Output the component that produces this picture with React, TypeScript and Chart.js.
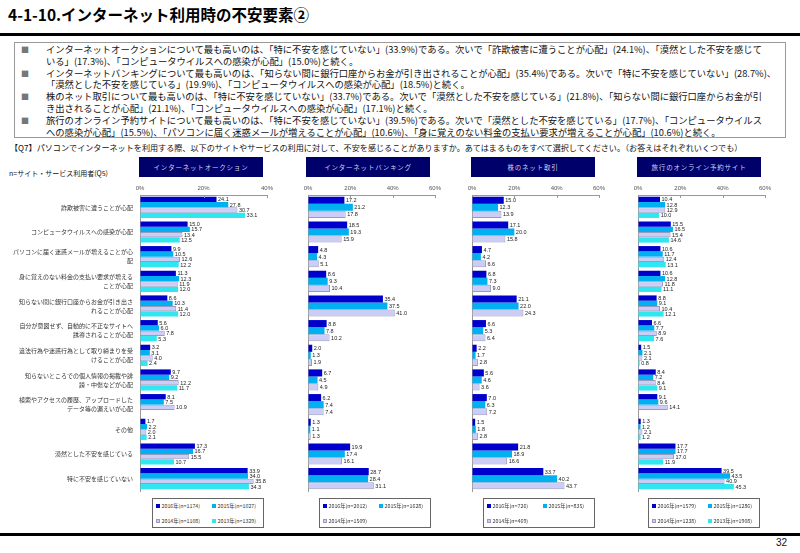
import React, { useEffect, useRef } from "react";
import { Chart, registerables } from "chart.js";

Chart.register(...registerables);

const FONT = "'Noto Sans CJK JP', 'Noto Sans', sans-serif";
const NUMFONT = "'Liberation Sans', Arial, sans-serif";

const categories = [
  "詐欺被害に遭うことが心配",
  "コンピュータウイルスへの感染が心配",
  "パソコンに届く迷惑メールが増えることが心\n配",
  "身に覚えのない料金の支払い要求が増える\nことが心配",
  "知らない間に銀行口座からお金が引き出さ\nれることが心配",
  "自分が意図せず、自動的に不正なサイトへ\n誘導されることが心配",
  "違法行為や迷惑行為として取り締まりを受\nけることが心配",
  "知らないところでの個人情報の掲載や誹\n謗・中傷などが心配",
  "検索やアクセスの履歴、アップロードした\nデータ等の漏えいが心配",
  "その他",
  "漠然とした不安を感じている",
  "特に不安を感じていない",
];

const years = ["2016年", "2015年", "2014年", "2013年"];
const yearColors = ["#0000CC", "#00B0F0", "#CCCCF8", "#30E6F0"];
const yearBorders = ["#0000CC", "#00B0F0", "#9A9ABE", "#30E6F0"];

const panelTitles = ["インターネットオークション", "インターネットバンキング", "株のネット取引", "旅行のオンライン予約サイト"];
const xMaxes = [40, 60, 60, 60];
const tickStep = 20;

const auction2016 = [24.1, 15.0, 9.9, 11.3, 8.6, 5.6, 3.2, 9.7, 8.1, 1.7, 17.3, 33.9];
const auction2015 = [27.8, 15.7, 10.5, 12.3, 10.3, 6.0, 3.1, 9.2, 7.5, 2.2, 16.7, 34.0];
const auction2014 = [30.7, 13.4, 12.6, 11.9, 11.4, 7.8, 4.0, 12.2, 10.9, 2.0, 15.5, 35.8];
const auction2013 = [33.1, 12.5, 12.2, 12.0, 12.0, 5.3, 2.4, 11.7, null, 2.1, 10.7, 34.3];
const auctionN = [1174, 1027, 1108, 1329];

const banking2016 = [17.2, 18.5, 4.8, 8.6, 35.4, 8.8, 2.0, 6.7, 6.2, 1.3, 19.9, 28.7];
const banking2015 = [21.2, 19.3, 4.3, 9.3, 37.5, 7.8, 1.3, 4.5, 7.4, 1.1, 17.4, 28.4];
const banking2014 = [17.8, 15.9, 5.1, 10.4, 41.0, 10.2, 1.9, 4.9, 7.4, 1.3, 16.1, 31.1];
const bankingN = [2012, 1628, 1509];

const stock2016 = [15.0, 17.1, 4.7, 6.8, 21.1, 6.6, 2.2, 5.6, 7.0, 1.5, 21.8, 33.7];
const stock2015 = [12.3, 20.0, 4.2, 7.3, 22.0, 5.3, 1.7, 4.6, 6.3, 1.8, 18.9, 40.2];
const stock2014 = [13.9, 15.8, 6.6, 9.0, 24.3, 6.4, 2.8, 3.6, 7.2, 2.8, 16.6, 43.7];
const stockN = [726, 835, 469];

const travel2016 = [10.4, 15.5, 10.6, 10.6, 8.8, 6.6, 1.5, 8.4, 9.1, 1.3, 17.7, 39.5];
const travel2015 = [12.8, 16.5, 11.7, 12.8, 9.1, 7.7, 2.1, 7.2, 9.6, 1.2, 17.7, 43.5];
const travel2014 = [12.9, 15.4, 12.4, 11.8, 10.4, 8.9, 2.1, 8.4, 14.1, 2.1, 17.0, 40.9];
const travel2013 = [10.0, 14.6, 13.1, 11.1, 12.1, 7.6, 0.8, 9.1, null, 1.2, 11.9, 45.3];
const travelN = [1579, 1286, 1238, 1908];

const bulletLines = [
  [
    "インターネットオークションについて最も高いのは、「特に不安を感じていない」(33.9%)である。次いで「詐欺被害に遭うことが心配」(24.1%)、「漠然とした不安を感じて",
    "いる」(17.3%)、「コンピュータウイルスへの感染が心配」(15.0%)と続く。",
  ],
  [
    "インターネットバンキングについて最も高いのは、「知らない間に銀行口座からお金が引き出されることが心配」(35.4%)である。次いで「特に不安を感じていない」(28.7%)、",
    "「漠然とした不安を感じている」(19.9%)、「コンピュータウイルスへの感染が心配」(18.5%)と続く。",
  ],
  [
    "株のネット取引について最も高いのは、「特に不安を感じていない」(33.7%)である。次いで「漠然とした不安を感じている」(21.8%)、「知らない間に銀行口座からお金が引",
    "き出されることが心配」(21.1%)、「コンピュータウイルスへの感染が心配」(17.1%)と続く。",
  ],
  [
    "旅行のオンライン予約サイトについて最も高いのは、「特に不安を感じていない」(39.5%)である。次いで「漠然とした不安を感じている」(17.7%)、「コンピュータウイルス",
    "への感染が心配」(15.5%)、「パソコンに届く迷惑メールが増えることが心配」(10.6%)、「身に覚えのない料金の支払い要求が増えることが心配」(10.6%)と続く。",
  ],
];

const questionText =
  "【Q7】パソコンでインターネットを利用する際、以下のサイトやサービスの利用に対して、不安を感じることがありますか。あてはまるものをすべて選択してください。（お答えはそれぞれいくつでも）";
const baseText = "n=サイト・サービス利用者(Q5)";

type PanelDef = {
  series: (number | null)[][];
  ns: number[];
  canvasLeft: number;
  canvasWidth: number;
  padLeft: number;
  padRight: number;
  yWidth: number;
  showLabels: boolean;
  headerLeft: number;
  legendLeft: number;
};

const panels: PanelDef[] = [
  { series: [auction2016, auction2015, auction2014, auction2013], ns: auctionN, canvasLeft: 0, canvasWidth: 290, padLeft: 0, padRight: 23, yWidth: 140, showLabels: true, headerLeft: 139, legendLeft: 152 },
  { series: [banking2016, banking2015, banking2014], ns: bankingN, canvasLeft: 290, canvasWidth: 160, padLeft: 18, padRight: 15, yWidth: 0, showLabels: false, headerLeft: 306, legendLeft: 319 },
  { series: [stock2016, stock2015, stock2014], ns: stockN, canvasLeft: 455, canvasWidth: 160, padLeft: 17, padRight: 16, yWidth: 0, showLabels: false, headerLeft: 471, legendLeft: 483 },
  { series: [travel2016, travel2015, travel2014, travel2013], ns: travelN, canvasLeft: 620, canvasWidth: 165, padLeft: 18, padRight: 20, yWidth: 0, showLabels: false, headerLeft: 637, legendLeft: 648 },
];

const CANVAS_TOP = 180;
const CANVAS_H = 320;

const overlayPlugin = {
  id: "overlay",
  afterDatasetsDraw(chart: any) {
    const ctx = chart.ctx;
    ctx.save();
    ctx.font = `5.5px ${NUMFONT}`;
    ctx.fillStyle = "#222";
    ctx.textAlign = "left";
    ctx.textBaseline = "middle";
    chart.data.datasets.forEach((ds: any, di: number) => {
      const meta = chart.getDatasetMeta(di);
      meta.data.forEach((el: any, i: number) => {
        const v = ds.data[i];
        if (v === null || v === undefined) return;
        ctx.fillText(Number(v).toFixed(1), el.x + 1.5, el.y + 0.5);
      });
    });
    const xs = chart.scales.x;
    ctx.strokeStyle = "#999";
    ctx.lineWidth = 1;
    ctx.beginPath();
    xs.ticks.forEach((t: any) => {
      if (t.value === 0) return;
      const px = Math.round(xs.getPixelForValue(t.value)) + 0.5;
      ctx.moveTo(px, chart.chartArea.top);
      ctx.lineTo(px, chart.chartArea.top + 3);
    });
    ctx.stroke();
    ctx.restore();
  },
};

function Panel({ def, xMax }: { def: PanelDef; xMax: number }) {
  const ref = useRef<HTMLCanvasElement>(null);
  useEffect(() => {
    const chart = new Chart(ref.current as HTMLCanvasElement, {
      type: "bar",
      data: {
        labels: categories.map((c) => c.split("\n")),
        datasets: def.series.map((s, i) => ({
          label: years[i],
          data: s,
          backgroundColor: yearColors[i],
          borderColor: yearBorders[i],
          borderWidth: i === 2 ? 1 : 0,
          categoryPercentage: 0.86,
          barPercentage: 1.0,
        })),
      },
      options: {
        indexAxis: "y",
        animation: false,
        responsive: false,
        maintainAspectRatio: false,
        layout: { padding: { left: def.padLeft, right: def.padRight, top: 0, bottom: 9 } },
        plugins: { legend: { display: false }, tooltip: { enabled: false } },
        scales: {
          x: {
            type: "linear",
            position: "top",
            min: 0,
            max: xMax,
            ticks: {
              stepSize: tickStep,
              callback: (v: any) => v + "%",
              font: { size: 6, family: NUMFONT },
              color: "#555",
              padding: 3,
              maxRotation: 0,
              autoSkip: false,
            },
            grid: { display: true, drawOnChartArea: false, drawTicks: false },
            border: { display: true, color: "#999", width: 1 },
            afterFit: (s: any) => {
              s.height = 15;
              s.paddingLeft = 0;
              s.paddingRight = 0;
            },
          },
          y: {
            type: "category",
            position: "left",
            ticks: {
              display: def.showLabels,
              font: { size: 6, family: FONT, lineHeight: 1.5 },
              color: "#333",
              padding: 7,
              autoSkip: false,
            },
            grid: { display: true, drawOnChartArea: false, drawTicks: false },
            border: { display: true, color: "#999", width: 1 },
            afterFit: (s: any) => {
              s.width = def.yWidth;
              s.paddingTop = 0;
              s.paddingBottom = 0;
            },
          },
        },
      } as any,
      plugins: [overlayPlugin],
    });
    return () => chart.destroy();
  }, []);
  return (
    <canvas
      ref={ref}
      width={def.canvasWidth}
      height={CANVAS_H}
      style={{ position: "absolute", left: def.canvasLeft, top: CANVAS_TOP, width: def.canvasWidth, height: CANVAS_H }}
    />
  );
}

function Legend({ def }: { def: PanelDef }) {
  const items = def.ns.map((n, i) => ({ text: `${years[i]}(n=${n})`, color: yearColors[i], border: yearBorders[i] }));
  return (
    <div
      style={{
        position: "absolute",
        left: def.legendLeft,
        top: 498,
        width: 112,
        height: 30,
        border: "1px solid #666",
        boxSizing: "border-box",
        background: "#fff",
      }}
    >
      {items.map((it, i) => (
        <div
          key={i}
          style={{
            position: "absolute",
            left: i % 2 === 0 ? 3 : 59,
            top: i < 2 ? 3 : 18,
            height: 8,
            display: "flex",
            alignItems: "center",
            whiteSpace: "nowrap",
            fontSize: 5.3,
            fontFamily: FONT,
            color: "#333",
          }}
        >
          <span style={{ display: "inline-block", width: 4, height: 4, background: it.color, border: i === 2 ? `1px solid ${it.border}` : "none", boxSizing: "border-box", marginRight: 1.5 }} />
          {it.text}
        </div>
      ))}
    </div>
  );
}

export default function App() {
  return (
    <div style={{ position: "absolute", left: 0, top: 0, width: 800, height: 553, overflow: "hidden", background: "#fff", fontFamily: FONT }}>
      <div style={{ position: "absolute", left: 8, top: 3, fontSize: 15.5, fontWeight: "bold", color: "#000", whiteSpace: "nowrap", lineHeight: "22px" }}>
        4-1-10.インターネット利用時の不安要素②
      </div>
      <div style={{ position: "absolute", left: 0, top: 33, width: 800, height: 3, background: "#000" }} />

      <div style={{ position: "absolute", left: 14, top: 42, width: 772, height: 96, border: "1px solid #999", boxSizing: "border-box" }} />
      {bulletLines.map((lines, bi) => (
        <React.Fragment key={bi}>
          <div style={{ position: "absolute", left: 21, top: 44 + bi * 23.6, fontSize: 8, lineHeight: "11.8px", color: "#777" }}>■</div>
          {lines.map((ln, li) => (
            <div
              key={li}
              style={{
                position: "absolute",
                left: 46,
                top: 44 + bi * 23.6 + li * 11.8,
                fontSize: 9.3,
                lineHeight: "11.8px",
                whiteSpace: "nowrap",
                color: "#111",
              }}
            >
              {ln}
            </div>
          ))}
        </React.Fragment>
      ))}

      <div style={{ position: "absolute", left: 10, top: 143, fontSize: 8.1, lineHeight: "10px", whiteSpace: "nowrap", color: "#111" }}>{questionText}</div>
      <div style={{ position: "absolute", left: 9, top: 168, fontSize: 7, lineHeight: "10px", whiteSpace: "nowrap", color: "#111" }}>{baseText}</div>

      {panels.map((p, i) => (
        <div
          key={"h" + i}
          style={{
            position: "absolute",
            left: p.headerLeft,
            top: 157,
            width: 124,
            height: 20,
            background: "#00006A",
            color: "#D0D0F0",
            fontSize: 6.5,
            letterSpacing: 0.8,
            display: "flex",
            alignItems: "center",
            justifyContent: "center",
            whiteSpace: "nowrap",
          }}
        >
          {panelTitles[i]}
        </div>
      ))}

      {panels.map((p, i) => (
        <Panel key={"p" + i} def={p} xMax={xMaxes[i]} />
      ))}

      {panels.map((p, i) => (
        <Legend key={"l" + i} def={p} />
      ))}

      <div style={{ position: "absolute", left: 0, top: 533, width: 800, height: 3, background: "#000" }} />
      <div style={{ position: "absolute", left: 776, top: 537, fontSize: 10, lineHeight: "12px", color: "#111", fontFamily: NUMFONT }}>32</div>
    </div>
  );
}
